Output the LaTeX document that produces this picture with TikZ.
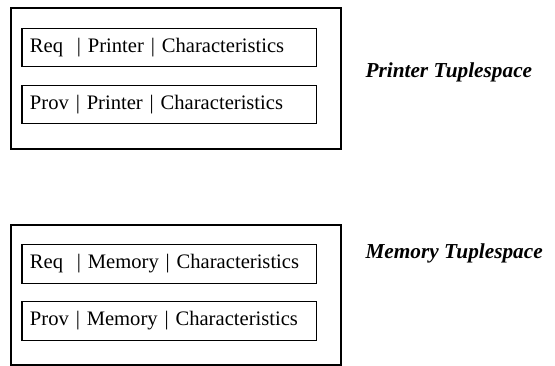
\documentclass[tikz,border=0pt]{standalone}
\usepackage{fontspec}
\setmainfont{Liberation Serif}
\usetikzlibrary{positioning}

\begin{document}
\begin{tikzpicture}[x=1pt,y=1pt,
  outerbox/.style={draw,line width=1.8pt,minimum width=330pt,minimum height=141pt,inner sep=0pt},
  tuplebox/.style={draw,line width=1.4pt,minimum width=294.5pt,minimum height=38.5pt,inner sep=8pt,
    text width=278.5pt,align=left,font=\fontsize{20.6}{24}\selectfont},
  spacelabel/.style={anchor=west,font=\fontsize{21.3}{24}\selectfont\bfseries\itshape}]
  \useasboundingbox (0,0) rectangle (555,366);
  % Printer Tuplespace
  \node[outerbox] (printer) at (176,287.5) {};
  \node[tuplebox] (printerreq) at (169.25,318.5) {\mbox{Req\ \ | Printer | Characteristics}};
  \node[tuplebox] (printerprov) at (169.25,261.5) {\mbox{Prov | Printer | Characteristics}};
  \node[spacelabel] (printerlabel) at (362,294) {Printer Tuplespace};
  % Memory Tuplespace
  \node[outerbox,minimum height=140pt] (memory) at (176,71) {};
  \node[tuplebox] (memoryreq) at (169.25,102) {\mbox{Req\ \ | Memory | Characteristics}};
  \node[tuplebox] (memoryprov) at (169.25,45) {\mbox{Prov | Memory | Characteristics}};
  \node[spacelabel] (memorylabel) at (362,113) {Memory Tuplespace};
\end{tikzpicture}
\end{document}
